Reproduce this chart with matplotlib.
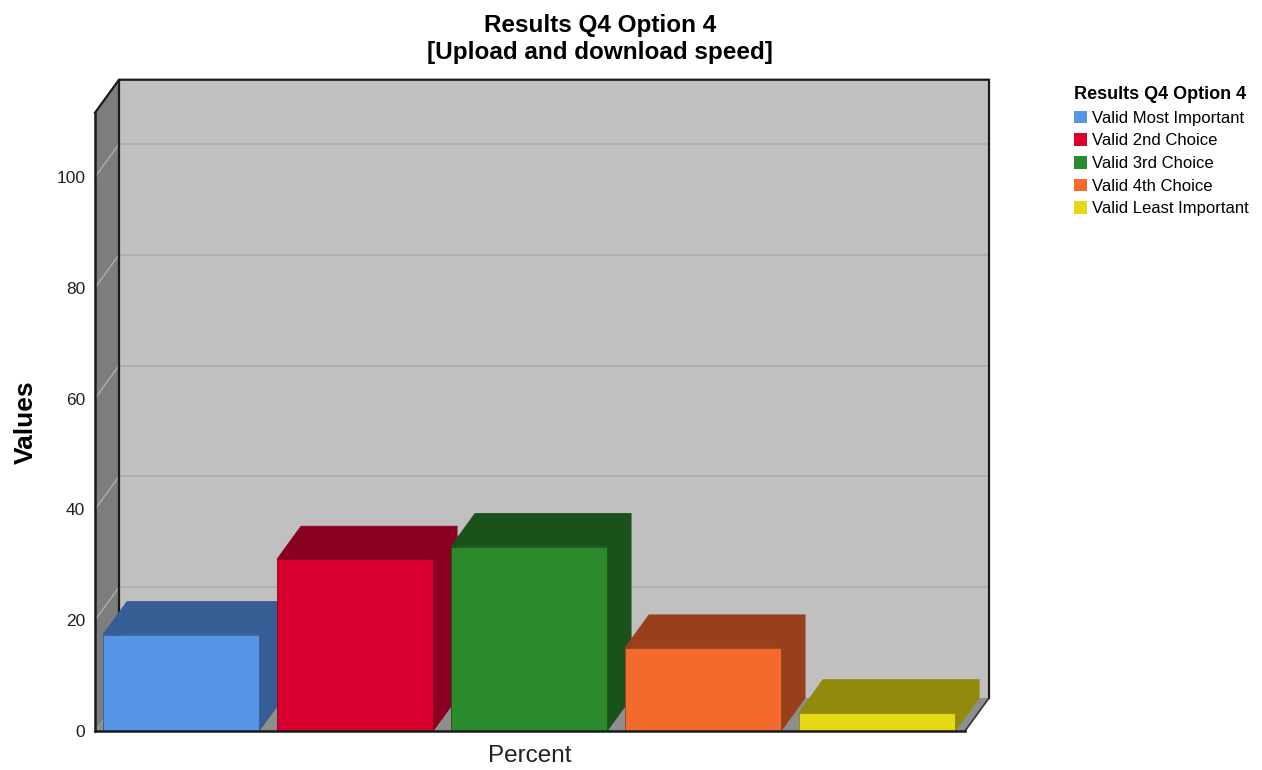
import matplotlib
matplotlib.use("Agg")
import matplotlib.pyplot as plt
from matplotlib.patches import Polygon

plt.rcParams['font.family'] = ['Liberation Sans', 'DejaVu Sans']

# Data
categories = ["Valid Most Important", "Valid 2nd Choice", "Valid 3rd Choice",
              "Valid 4th Choice", "Valid Least Important"]
values = [17.4, 31.0, 33.3, 15.0, 3.3]
front_colors = ["#5694e5", "#d7002e", "#2b8a2b", "#f26b2c", "#e5d916"]
shade_colors = ["#365e94", "#8a0020", "#1b521b", "#98401c", "#928a0a"]
yticks = [0, 20, 40, 60, 80, 100]

W_PX, H_PX, DPI = 1262, 770, 100
fig = plt.figure(figsize=(W_PX / DPI, H_PX / DPI), dpi=DPI)

# Front plane of the 3D box
left_px, right_px, base_px = 95, 965, 39
ymax = 111.6
px_per_unit = 5.54
ax = fig.add_axes([left_px / W_PX, base_px / H_PX,
                   (right_px - left_px) / W_PX, ymax * px_per_unit / H_PX])
n = len(values)
ax.set_xlim(0, n)
ax.set_ylim(0, ymax)

# Depth offset (in data units)
dx = 24 / ((right_px - left_px) / n)
dy = 33 / px_per_unit

def poly(pts, fc, ec="none", lw=0.0, z=1):
    p = Polygon(pts, closed=True, facecolor=fc, edgecolor=ec, linewidth=lw,
                zorder=z, clip_on=False, joinstyle="miter")
    ax.add_patch(p)
    return p

# Walls and floor
poly([(0, 0), (dx, dy), (dx, ymax + dy), (0, ymax)], "#7d7d7d", z=0.5)
poly([(0, 0), (n, 0), (n + dx, dy), (dx, dy)], "#8e8e8e", z=0.5)
poly([(dx, dy), (n + dx, dy), (n + dx, ymax + dy), (dx, ymax + dy)], "#c0c0c0", z=0.5)

# Gridlines on back wall and side wall
for t in yticks[1:]:
    ax.plot([dx, n + dx], [t + dy, t + dy], color="#acacac", lw=1.2, zorder=0.8, clip_on=False)
    ax.plot([0, dx], [t, t + dy], color="#a6a6a6", lw=1.2, zorder=0.8, clip_on=False)

# Box outline
edge = dict(color="#1a1a1a", lw=1.6, zorder=0.9, clip_on=False, solid_joinstyle="miter")
ax.plot([0, dx, n + dx, n + dx], [ymax, ymax + dy, ymax + dy, dy], **edge)
ax.plot([dx, dx], [dy, ymax + dy], **edge)
ax.plot([n, n + dx], [0, dy], color="#333333", lw=1.2, zorder=0.9, clip_on=False)

# Bars: front faces via bar(), top and side faces as polygons
bar_w = 0.897
offset = 0.046
xs = [i + offset for i in range(n)]
for i, (x0, v) in enumerate(zip(xs, values)):
    z = 2 + i
    ax.bar(x0, v, width=bar_w, align="edge", color=front_colors[i],
           edgecolor=shade_colors[i], linewidth=0.6, zorder=z + 0.5,
           label=categories[i])
    poly([(x0, v), (x0 + bar_w, v), (x0 + bar_w + dx, v + dy), (x0 + dx, v + dy)],
         shade_colors[i], ec=shade_colors[i], lw=0.6, z=z)
    poly([(x0 + bar_w, 0), (x0 + bar_w + dx, dy), (x0 + bar_w + dx, v + dy), (x0 + bar_w, v)],
         shade_colors[i], ec=shade_colors[i], lw=0.6, z=z)

# Axes styling
for s in ["top", "right"]:
    ax.spines[s].set_visible(False)
for s in ["left", "bottom"]:
    ax.spines[s].set_color("#1a1a1a")
    ax.spines[s].set_linewidth(1.8)
    ax.spines[s].set_zorder(20)
ax.set_facecolor("none")
ax.set_yticks(yticks)
ax.set_yticklabels([str(t) for t in yticks], fontsize=12.5, color="#222222")
ax.tick_params(axis="y", length=0, pad=7)
ax.set_xticks([])

ax.set_ylabel("Values", fontsize=19, fontweight="bold")
ax.yaxis.set_label_coords(-0.066, 0.5)
ax.set_xlabel("Percent", fontsize=17.5, color="#222222")
ax.xaxis.set_label_coords(0.5, -0.022)

fig.text(600 / W_PX, 1 - 39 / H_PX, "Results Q4 Option 4\n[Upload and download speed]",
         ha="center", va="center", fontsize=17.5, fontweight="bold", linespacing=1.25)

leg = ax.legend(loc="upper left", bbox_to_anchor=(1074 / W_PX, 1 - 86 / H_PX),
                bbox_transform=fig.transFigure, frameon=False,
                title="Results Q4 Option 4", alignment="left",
                fontsize=12, handlelength=0.8, handleheight=0.8,
                handletextpad=0.3, labelspacing=0.45, borderpad=0, borderaxespad=0)
leg.get_title().set_fontweight("bold")
leg.get_title().set_fontsize(13)
for h in leg.legend_handles:
    h.set_edgecolor("none")

fig.savefig("out.png", dpi=DPI)
